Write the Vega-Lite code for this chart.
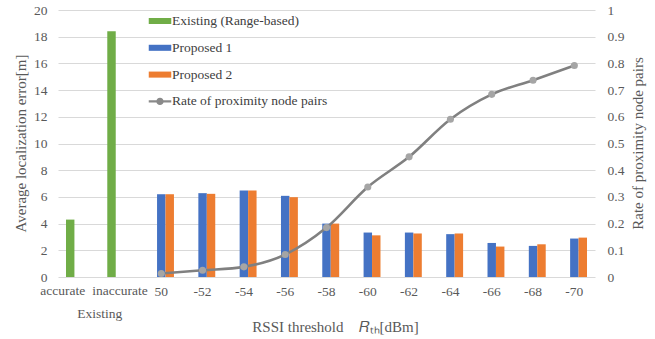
{
  "$schema": "https://vega.github.io/schema/vega-lite/v6.json",
  "width": 537,
  "height": 267,
  "autosize": {"type": "none"},
  "padding": {"left": 58, "top": 10, "right": 60, "bottom": 62},
  "background": "white",
  "config": {
    "view": {"stroke": null},
    "font": "Liberation Serif",
    "legend": {"labelFont": "Liberation Serif", "titleFont": "Liberation Serif"},
    "text": {"font": "Liberation Serif"},
    "axis": {
      "labelFont": "Liberation Serif",
      "titleFont": "Liberation Serif",
      "labelFontSize": 13.5,
      "titleFontSize": 15,
      "titleFontWeight": "normal",
      "labelColor": "#595959",
      "titleColor": "#595959",
      "ticks": false,
      "domain": false,
      "gridColor": "#d9d9d9",
      "gridWidth": 1
    }
  },
  "datasets": {
    "bars": [
      {"cat": "accurate", "series": "Existing (Range-based)", "value": 4.3},
      {"cat": "inaccurate", "series": "Existing (Range-based)", "value": 18.4},
      {"cat": "50", "series": "Proposed 1", "value": 6.2},
      {"cat": "50", "series": "Proposed 2", "value": 6.2},
      {"cat": "-52", "series": "Proposed 1", "value": 6.28},
      {"cat": "-52", "series": "Proposed 2", "value": 6.23},
      {"cat": "-54", "series": "Proposed 1", "value": 6.48},
      {"cat": "-54", "series": "Proposed 2", "value": 6.48},
      {"cat": "-56", "series": "Proposed 1", "value": 6.08},
      {"cat": "-56", "series": "Proposed 2", "value": 5.98},
      {"cat": "-58", "series": "Proposed 1", "value": 4.0},
      {"cat": "-58", "series": "Proposed 2", "value": 4.0},
      {"cat": "-60", "series": "Proposed 1", "value": 3.33},
      {"cat": "-60", "series": "Proposed 2", "value": 3.12},
      {"cat": "-62", "series": "Proposed 1", "value": 3.33},
      {"cat": "-62", "series": "Proposed 2", "value": 3.26},
      {"cat": "-64", "series": "Proposed 1", "value": 3.21},
      {"cat": "-64", "series": "Proposed 2", "value": 3.26},
      {"cat": "-66", "series": "Proposed 1", "value": 2.55},
      {"cat": "-66", "series": "Proposed 2", "value": 2.28},
      {"cat": "-68", "series": "Proposed 1", "value": 2.33},
      {"cat": "-68", "series": "Proposed 2", "value": 2.45},
      {"cat": "-70", "series": "Proposed 1", "value": 2.88},
      {"cat": "-70", "series": "Proposed 2", "value": 2.95}
    ],
    "rate": [
      {"cat": "50", "rate": 0.013},
      {"cat": "-52", "rate": 0.025},
      {"cat": "-54", "rate": 0.038},
      {"cat": "-56", "rate": 0.084},
      {"cat": "-58", "rate": 0.185},
      {"cat": "-60", "rate": 0.337},
      {"cat": "-62", "rate": 0.45},
      {"cat": "-64", "rate": 0.591},
      {"cat": "-66", "rate": 0.684},
      {"cat": "-68", "rate": 0.737},
      {"cat": "-70", "rate": 0.792}
    ],
    "group": [
      {"cat": "accurate", "label": "Existing", "pos": -2.75}
    ],
    "catAccurate": [
      {"cat": "accurate", "label": "accurate", "pos": -1.05}
    ],
    "catInaccurate": [
      {"cat": "inaccurate", "label": "inaccurate", "pos": -1.05}
    ]
  },
  "encoding": {
    "x": {
      "field": "cat", "type": "nominal", "sort": null,
      "scale": {"domain": ["accurate", "inaccurate", "50", "-52", "-54", "-56", "-58", "-60", "-62", "-64", "-66", "-68", "-70"], "paddingInner": 0.386, "paddingOuter": 0.193},
      "axis": {
        "labelAngle": 0, "labelPadding": 7, "labelFont": "Liberation Serif",
        "labelExpr": "datum.value === 'accurate' || datum.value === 'inaccurate' ? '' : datum.label",
        "title": "RSSI threshold\u00a0\u00a0\u00a0\u00a0𝑅ₜₕ[dBm]", "titleFont": "Liberation Serif", "titlePadding": 22, "titleX": 277
      }
    }
  },
  "layer": [
    {
      "data": {"name": "bars"},
      "mark": {"type": "bar"},
      "encoding": {
        "xOffset": {
          "field": "series", "type": "nominal",
          "scale": {"domain": ["Existing (Range-based)", "Proposed 1", "Proposed 2"], "paddingInner": 0, "paddingOuter": 0}
        },
        "y": {
          "field": "value", "type": "quantitative",
          "scale": {"domain": [0, 20]},
          "axis": {"values": [0, 2, 4, 6, 8, 10, 12, 14, 16, 18, 20], "title": "Average localization error[m]", "labelFont": "Liberation Serif", "labelPadding": 11, "titleX": -38, "titleY": 133, "titleBaseline": "middle", "titleAlign": "center", "titleAngle": -90, "grid": true}
        },
        "color": {
          "field": "series", "type": "nominal",
          "scale": {"domain": ["Existing (Range-based)", "Proposed 1", "Proposed 2", "Rate of proximity node pairs"], "range": ["#70AD47", "#4472C4", "#ED7D31", "#8a8a8a"]},
          "legend": {
            "orient": "none", "legendX": 93, "legendY": 2, "title": null,
            "symbolType": "M-1.3,-0.35H1.3V0.35H-1.3Z",
            "symbolSize": 300,
            "labelFont": "Liberation Serif", "labelFontSize": 13.5, "labelColor": "#404040",
            "rowPadding": 10.8, "labelOffset": 3,
            "encode": {
              "symbols": {
                "update": {
                  "shape": {"signal": "datum.value === 'Rate of proximity node pairs' ? 'M-1.3,-0.13H1.3V0.13H-1.3Z M0.42,0A0.42,0.42,0,1,1,-0.42,0A0.42,0.42,0,1,1,0.42,0Z' : 'M-1.3,-0.35H1.3V0.35H-1.3Z'"},
                  "fill": {"scale": "color", "field": "value"},
                  "strokeWidth": {"value": 0},
                  "opacity": {"value": 1}
                }
              }
            }
          }
        }
      }
    },
    {
      "data": {"name": "group"},
      "mark": {"type": "text", "dx": 21, "baseline": "middle", "align": "center", "fontSize": 13.5, "font": "Liberation Serif", "color": "#595959"},
      "encoding": {
        "y": {"field": "pos", "type": "quantitative", "scale": {"domain": [0, 20]}, "axis": null},
        "text": {"field": "label"}
      }
    },
    {
      "data": {"name": "catAccurate"},
      "mark": {"type": "text", "dx": -16, "baseline": "middle", "align": "center", "fontSize": 13.5, "font": "Liberation Serif", "color": "#595959"},
      "encoding": {
        "y": {"field": "pos", "type": "quantitative", "scale": {"domain": [0, 20]}, "axis": null},
        "text": {"field": "label"}
      }
    },
    {
      "data": {"name": "catInaccurate"},
      "mark": {"type": "text", "dx": 0, "baseline": "middle", "align": "center", "fontSize": 13.5, "font": "Liberation Serif", "color": "#595959"},
      "encoding": {
        "y": {"field": "pos", "type": "quantitative", "scale": {"domain": [0, 20]}, "axis": null},
        "text": {"field": "label"}
      }
    },
    {
      "data": {"name": "rate"},
      "mark": {"type": "line", "color": "#808080", "strokeWidth": 2.6, "interpolate": "monotone"},
      "encoding": {
        "y": {
          "field": "rate", "type": "quantitative",
          "scale": {"domain": [0, 1]},
          "axis": {"orient": "right", "values": [0, 0.1, 0.2, 0.3, 0.4, 0.5, 0.6, 0.7, 0.8, 0.9, 1], "format": ".1~f", "labelFont": "Liberation Serif", "title": "Rate of proximity node pairs", "grid": false, "labelPadding": 12, "titleX": 42, "titleY": 133, "titleBaseline": "middle", "titleAlign": "center", "titleAngle": -90}
        }
      }
    },
    {
      "data": {"name": "rate"},
      "mark": {"type": "point", "filled": true, "color": "#A5A5A5", "size": 50, "opacity": 1},
      "encoding": {
        "y": {"field": "rate", "type": "quantitative", "scale": {"domain": [0, 1]}, "axis": null}
      }
    }
  ],
  "resolve": {"scale": {"y": "independent"}}
}
